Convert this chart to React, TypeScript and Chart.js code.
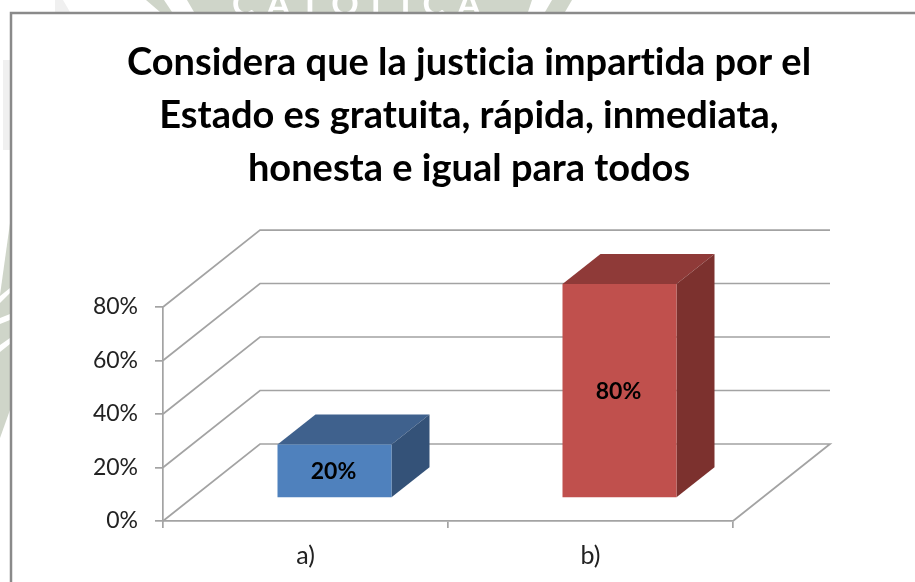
import React, { useEffect, useRef } from "react";
import { Chart, registerables } from "chart.js";

Chart.register(...registerables);

const categories = ["a)", "b)"];
const seriesValues = [20, 80];
const barColors = ["#4f81bd", "#c0504d"];
const topColors = ["#3f618d", "#8f3a38"];
const sideColors = ["#345278", "#7c312e"];
const titleLines = [
  "Considera que la justicia impartida por el",
  "Estado es gratuita, rápida, inmediata,",
  "honesta e igual para todos",
];
const yTicks = [0, 20, 40, 60, 80];
const watermarkWord = "CATOLICA";

const FONT = "Lato";
const DEPTH_X = 97;
const DEPTH_Y = 77;
const BAR_SHIFT_X = 29;
const BAR_SHIFT_Y = 23;
const BAR_DEPTH_X = 38;
const BAR_DEPTH_Y = 30;
const SAGE = "#cfd5c9";

function poly(ctx: any, pts: number[][]) {
  ctx.beginPath();
  pts.forEach((p, i) => (i ? ctx.lineTo(p[0], p[1]) : ctx.moveTo(p[0], p[1])));
  ctx.closePath();
  ctx.fill();
}

const pagePlugin = {
  id: "page3d",
  afterLayout(chart: any) {
    // centre the title on the whole chart frame, not on the plot
    const block = chart.titleBlock;
    block.left = 0;
    block.right = 938;
    block.width = 938;
  },
  beforeDraw(chart: any) {
    const { ctx, width, height, chartArea, scales } = chart;
    ctx.textRendering = "optimizeSpeed";
    ctx.save();
    ctx.fillStyle = "#ffffff";
    ctx.fillRect(0, 0, width, height);
    // faint watermark of the page behind the chart frame
    ctx.fillStyle = "#f0f0f0";
    poly(ctx, [[55, 0], [63, 0], [70, 12], [55, 12]]);
    poly(ctx, [[3, 60], [10, 60], [10, 150], [3, 150]]);
    ctx.fillStyle = SAGE;
    poly(ctx, [[146, 0], [164, 0], [172, 12], [160, 12]]);
    poly(ctx, [[187, 0], [488, 0], [488, 12], [194, 12]]);
    poly(ctx, [[488, 0], [532, 0], [528, 12], [488, 12]]);
    poly(ctx, [[552, 0], [572, 0], [565, 12], [545, 12]]);
    poly(ctx, [[10, 223], [10, 410], [0, 438], [0, 295]]);
    ctx.fillStyle = "#ffffff";
    poly(ctx, [[0, 296], [10, 288], [10, 293], [0, 303]]);
    poly(ctx, [[0, 318], [10, 314], [10, 320], [0, 324]]);
    poly(ctx, [[0, 345], [10, 338], [10, 344], [0, 352]]);
    ctx.beginPath();
    ctx.rect(0, 0, width, 12);
    ctx.save();
    ctx.clip();
    ctx.fillStyle = "#ffffff";
    ctx.font = `bold 34px "${FONT}"`;
    ctx.textAlign = "left";
    ctx.textBaseline = "alphabetic";
    (ctx as any).letterSpacing = "12px";
    ctx.fillText(watermarkWord, 232, 16);
    (ctx as any).letterSpacing = "0px";
    ctx.restore();
    // chart frame
    ctx.strokeStyle = "#8a8a8a";
    ctx.lineWidth = 2.5;
    ctx.beginPath();
    ctx.moveTo(width, 13);
    ctx.lineTo(11, 13);
    ctx.lineTo(11, height);
    ctx.stroke();
    // walls: each y tick runs back along the side wall, then across the back wall
    ctx.strokeStyle = "#a3a3a3";
    ctx.lineWidth = 1.7;
    const left = chartArea.left;
    const right = chartArea.right;
    yTicks.forEach((v) => {
      const y = scales.y.getPixelForValue(v);
      ctx.beginPath();
      ctx.moveTo(left, y);
      ctx.lineTo(left + DEPTH_X, y - DEPTH_Y);
      ctx.lineTo(right + DEPTH_X, y - DEPTH_Y);
      if (v === 0) ctx.lineTo(right, y);
      ctx.stroke();
    });
    ctx.restore();
  },
  beforeDatasetsDraw(chart: any) {
    const { ctx } = chart;
    const meta = chart.getDatasetMeta(0);
    ctx.save();
    ctx.translate(BAR_SHIFT_X, -BAR_SHIFT_Y);
    meta.data.forEach((bar: any, i: number) => {
      const l = bar.x - bar.width / 2;
      const r = bar.x + bar.width / 2;
      const t = bar.y;
      const b = bar.base;
      ctx.fillStyle = topColors[i];
      poly(ctx, [
        [l, t],
        [l + BAR_DEPTH_X, t - BAR_DEPTH_Y],
        [r + BAR_DEPTH_X, t - BAR_DEPTH_Y],
        [r, t],
      ]);
      ctx.fillStyle = sideColors[i];
      poly(ctx, [
        [r, t],
        [r + BAR_DEPTH_X, t - BAR_DEPTH_Y],
        [r + BAR_DEPTH_X, b - BAR_DEPTH_Y],
        [r, b],
      ]);
    });
    // stays translated so that the native bars land on the front of each box
  },
  afterDatasetsDraw(chart: any) {
    const { ctx } = chart;
    ctx.restore();
    const meta = chart.getDatasetMeta(0);
    ctx.save();
    ctx.fillStyle = "#000000";
    ctx.font = `bold 23px "${FONT}"`;
    ctx.textAlign = "center";
    ctx.textBaseline = "middle";
    meta.data.forEach((bar: any, i: number) => {
      const cy = (bar.y + bar.base) / 2 - BAR_SHIFT_Y;
      ctx.fillText(`${seriesValues[i]}%`, bar.x + BAR_SHIFT_X - 1, cy + 1);
    });
    ctx.restore();
  },
};

export default function App() {
  const ref = useRef<HTMLCanvasElement>(null);
  useEffect(() => {
    document.body.style.margin = "0";
    const chart = new Chart(ref.current as HTMLCanvasElement, {
      type: "bar",
      data: {
        labels: categories,
        datasets: [
          {
            data: seriesValues,
            backgroundColor: barColors,
            barPercentage: 0.4,
            categoryPercentage: 1,
            clip: false,
          } as any,
        ],
      },
      options: {
        responsive: false,
        animation: false,
        layout: { padding: { left: 0, right: 182, top: 36, bottom: 0 } },
        plugins: {
          legend: { display: false },
          tooltip: { enabled: false },
          title: {
            display: true,
            text: titleLines,
            color: "#000000",
            align: "center",
            font: { family: FONT, size: 38, weight: "bold", lineHeight: 1.395 },
            padding: { top: 0, bottom: 112 },
            fullSize: true,
          },
        },
        scales: {
          x: {
            grid: {
              drawOnChartArea: false,
              drawTicks: true,
              tickLength: 7,
              color: "#a3a3a3",
              lineWidth: 1.7,
              offset: true,
            },
            border: { color: "#a3a3a3", width: 1.7 },
            ticks: {
              color: "#222222",
              font: { family: FONT, size: 25 },
              padding: 13,
            },
            afterFit(scale: any) {
              scale.height = 61;
            },
          },
          y: {
            min: 0,
            max: 80,
            grid: { drawOnChartArea: false, tickLength: 8, color: "#a3a3a3", lineWidth: 1.7 },
            border: { color: "#a3a3a3", width: 1.7 },
            ticks: {
              stepSize: 20,
              color: "#222222",
              font: { family: FONT, size: 23 },
              padding: 17,
              callback: (v: any) => `${v}%`,
            },
            afterFit(scale: any) {
              scale.width = 163;
            },
          },
        },
      },
      plugins: [pagePlugin],
    } as any);
    return () => chart.destroy();
  }, []);
  return <canvas ref={ref} width={915} height={582} style={{ display: "block" }} />;
}
